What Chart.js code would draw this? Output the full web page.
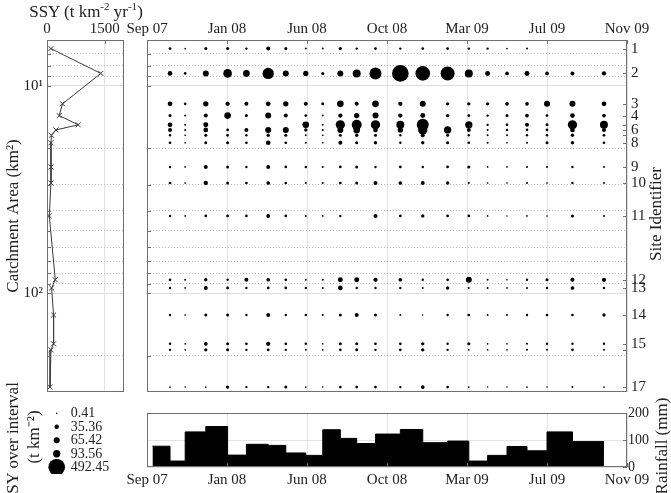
<!DOCTYPE html>
<html>
<head>
<meta charset="utf-8">
<script src="https://cdn.jsdelivr.net/npm/chart.js@4.4.1/dist/chart.umd.min.js"></script>
<style>
  body { margin: 0; background: #fff; }
  #fig { position: relative; width: 671px; height: 493px; overflow: hidden; font-family: "Liberation Serif", serif; color: #222; }
  #fig canvas { position: absolute; }
  .vlabel { position: absolute; white-space: nowrap; font-size: 17px; transform: translate(-50%, -50%) rotate(-90deg); }
  .hlabel { position: absolute; white-space: nowrap; font-size: 17px; transform: translate(-50%, -50%); }
</style>
</head>
<body>
<div id="fig">
  <canvas id="ssyChart" width="160" height="395" style="left:0;top:0"></canvas>
  <canvas id="syChart" width="561" height="400" style="left:110px;top:0"></canvas>
  <canvas id="rainChart" width="561" height="93" style="left:110px;top:400px"></canvas>
  <canvas id="keyChart" width="100" height="74" style="left:45px;top:400px"></canvas>
  <div class="hlabel" style="left:86px;top:11px">SSY (t km<sup style="font-size:11px">-2</sup> yr<sup style="font-size:11px">-1</sup>)</div>
  <div class="vlabel" style="left:656px;top:214px">Site Identifier</div>
  <div class="vlabel" style="left:662px;top:446px">Rainfall (mm)</div>
  <div class="vlabel" style="left:13px;top:438px">SY over interval</div>
  <div class="vlabel" style="left:32px;top:437px">(t km⁻²)</div>
</div>
<script>
// sites, ordered by catchment area (km2)
const siteLabels = ["1", "2", "3", "4", "", "6", "", "8", "9", "10", "11", "12", "13", "14", "15", "", "17"];
const catchmentArea = [6.6, 8.7, 12.2, 13.9, 15.4, 16.3, 17.3, 18.8, 24.6, 29.4, 42.4, 86.2, 94.4, 127.5, 175.6, 187.8, 284];
const ssy = [103, 1397, 403, 318, 809, 233, 116, 103, 103, 103, 60, 215, 119, 171, 171, 103, 78];

// sampling dates, days since 1 Sep 2007 (first entry = start of first interval)
const sampleDay = [9, 38, 63, 97, 133, 164, 200, 229, 262, 290, 319, 346, 377, 418, 455, 496, 531, 562, 594, 627, 660, 702, 754];
const rainfall = [77, 22, 130, 150, 44, 84, 80, 52, 43, 138, 106, 87, 122, 139, 90, 96, 22, 43, 76, 60, 130, 94];

const dateTickDays = [0, 132, 264, 396, 528, 660, 792];
const dateTickLabels = ["Sep 07", "Jan 08", "Jun 08", "Oct 08", "Mar 09", "Jul 09", "Nov 09"];
const ssyTicks = [0, 1500];
const rainTicks = [0, 100, 200];
const logGridTicks = [7, 8, 9, 10, 20, 30, 40, 50, 60, 70, 80, 90, 100, 200];
const legendValues = [0.41, 35.36, 65.42, 93.56, 492.45];

// SY over each interval (t km-2), one array per site
const sy01 = [13, 5, 16, 16, 10, 28, 16, 7, 7, 20, 10, 13, 10, 13, 13, 10, 10, 5, 7, null, null, null];
const sy02 = [39, 13, 64, 133, 79, 228, 64, 50, 16, 64, 113, 255, 492, 380, 350, 113, 44, 24, 44, 24, 28, 33];
const sy03 = [39, 13, 50, 33, 28, 39, 50, 28, 16, 79, 28, 79, 33, 64, 20, 20, 20, 24, 24, 64, 64, 39];
const sy04 = [16, 7, 28, 79, 16, 64, 28, 13, 7, 33, 50, 64, 33, 44, 20, 14, 10, 16, 24, 13, 39, 24];
const sy05 = [39, 7, 44, null, null, null, null, 79, 7, 154, 177, 154, 113, 255, null, 95, 10, 13, 28, 16, 154, 113];
const sy06 = [28, 7, 39, 13, 28, 64, 64, 20, 7, 64, 79, 39, 50, 154, 95, 28, 7, 10, 13, 13, 39, 28];
const sy07 = [10, 5, 16, 13, 10, 20, 16, 7, 5, 16, 20, 16, 10, 28, 16, 10, 7, 7, 10, 10, 20, 13];
const sy08 = [13, 5, 16, 16, 13, 39, 13, 7, 5, 28, 16, 20, 10, 20, 16, 13, 7, 5, 7, 16, 20, 13];
const sy09 = [10, 5, 28, 16, 10, 28, 13, 10, 7, 13, 16, 10, 13, 10, 13, 16, 5, 5, 7, 7, 10, 7];
const sy10 = [13, 5, 33, 16, 13, 24, 13, 7, 7, 13, 16, 28, 24, 28, 20, 7, 5, 5, 7, 5, 10, 7];
const sy11 = [10, 5, 13, 13, 13, 28, 13, 7, 5, 10, null, 28, 13, 20, 13, 13, 5, 3, 5, 3, 16, 7];
const sy12 = [13, 7, 20, 10, 28, 24, 13, 7, 7, 44, 44, 33, 24, 10, 13, 64, 7, 5, 10, 16, 28, 33];
const sy13 = [10, 5, 28, 13, 10, 13, 13, 10, 7, 39, 10, 10, 10, 7, 20, 7, 7, 5, 7, 10, 24, 10];
const sy14 = [10, 5, 16, 16, 10, 28, 10, 10, 7, 16, 28, 16, 7, 3, 10, 13, 7, 7, 10, 13, 13, 20];
const sy15 = [10, 5, 24, 16, 13, 33, 13, 10, 5, 16, 16, 13, 13, 20, 10, 16, 5, 5, 7, 10, 10, 10];
const sy16 = [10, 5, 20, 16, 10, 13, 10, 7, 5, 13, 16, 10, 13, 20, 10, 5, 5, 5, 7, 7, 13, 7];
const sy17 = [5, 3, 5, 20, 10, 10, 16, 5, 3, 13, 13, 13, 10, 24, 13, 5, 3, 3, 5, 3, 7, 5];
const syRows = [sy01, sy02, sy03, sy04, sy05, sy06, sy07, sy08, sy09, sy10, sy11, sy12, sy13, sy14, sy15, sy16, sy17];

Chart.defaults.font.family = "Liberation Serif";
Chart.defaults.font.size = 15;
Chart.defaults.color = "#222";
Chart.defaults.animation = false;
Chart.defaults.events = [];
Chart.defaults.responsive = false;
Chart.defaults.layout.autoPadding = false;
Chart.defaults.plugins.legend.display = false;
Chart.defaults.plugins.tooltip.enabled = false;

const radiusOf = v => Math.max(0.75, 0.375 * Math.sqrt(v));
const setTicks = list => s => { s.ticks = list.map(v => ({ value: v })); };
const isDecade = v => Math.abs(Math.log10(v) % 1) < 1e-9;
// fixed axis sizes so the plot boxes line up across canvases
const fitW = w => s => { s.width = w; s.paddingTop = 0; s.paddingBottom = 0; };
const fitH = h => s => { s.height = h; s.paddingLeft = 0; s.paddingRight = 0; };

// box round the plot area, with short inward tick marks (matlab look)
const frame = {
  id: "frame",
  afterDraw(chart) {
    const a = chart.chartArea;
    const ctx = chart.ctx;
    ctx.save();
    ctx.strokeStyle = "#707070";
    ctx.lineWidth = 1;
    ctx.strokeRect(Math.round(a.left) + 0.5, Math.round(a.top) + 0.5, Math.round(a.right - a.left) - 1, Math.round(a.bottom - a.top) - 1);
    ctx.beginPath();
    Object.values(chart.scales).forEach(s => {
      if (!s.options.display) return;
      s.ticks.forEach(t => {
        const p = Math.round(s.getPixelForValue(t.value)) + 0.5;
        if (s.position === "top") { ctx.moveTo(p, a.top); ctx.lineTo(p, a.top + 4); }
        else if (s.position === "bottom") { ctx.moveTo(p, a.bottom); ctx.lineTo(p, a.bottom - 4); }
        else if (s.position === "left") { ctx.moveTo(a.left, p); ctx.lineTo(a.left + 4, p); }
        else if (s.position === "right") { ctx.moveTo(a.right, p); ctx.lineTo(a.right - 4, p); }
      });
    });
    ctx.stroke();
    ctx.restore();
  },
};

const logGrid = { color: c => (c.tick && isDecade(c.tick.value) ? "#dedede" : "#bcbcbc"), drawTicks: false };
const logBorder = { display: false, dash: c => (c.tick && !isDecade(c.tick.value) ? [1, 2] : []) };
const dateGrid = { color: "#e3e3e3", drawTicks: false };

// catchment SSY profile
new Chart(document.getElementById("ssyChart"), {
  type: "scatter",
  data: {
    datasets: [{
      data: ssy.map((v, i) => ({ x: v, y: catchmentArea[i] })),
      showLine: true,
      borderColor: "#3a3a3a",
      borderWidth: 1,
      pointStyle: "crossRot",
      pointRadius: 3.5,
      pointBorderColor: "#3a3a3a",
      pointBorderWidth: 1,
    }],
  },
  options: {
    layout: { padding: { right: 36, bottom: 3 } },
    scales: {
      x: {
        type: "linear", position: "top", min: 0, max: 2000,
        afterBuildTicks: setTicks(ssyTicks),
        afterFit: fitH(40),
        ticks: { padding: 2, maxRotation: 0, autoSkip: false, callback: v => String(v) },
        grid: dateGrid,
        border: { display: false },
      },
      y: {
        type: "logarithmic", position: "left", reverse: true, min: 6, max: 300,
        afterBuildTicks: setTicks(logGridTicks),
        afterFit: fitW(47),
        ticks: { padding: 4, autoSkip: false, callback: v => (v === 10 ? "10¹" : v === 100 ? "10²" : "") },
        grid: logGrid,
        border: logBorder,
        title: { display: true, text: "Catchment Area (km²)", font: { size: 17 }, padding: { top: 3, bottom: 0 } },
      },
    },
  },
  plugins: [frame],
});

// SY bubbles per site and interval
new Chart(document.getElementById("syChart"), {
  type: "bubble",
  data: {
    datasets: syRows.map((row, s) => ({
      data: row
        .map((v, j) => (v == null ? null : { x: sampleDay[j + 1], y: catchmentArea[s], r: radiusOf(v) }))
        .filter(Boolean),
      backgroundColor: "#000",
      borderWidth: 0,
    })),
  },
  options: {
    layout: { padding: { bottom: 8 } },
    scales: {
      x: {
        type: "linear", position: "top", min: 0, max: 792,
        afterBuildTicks: setTicks(dateTickDays),
        afterFit: fitH(40),
        ticks: { padding: 2, maxRotation: 0, autoSkip: false, callback: (v, i) => dateTickLabels[i] },
        grid: dateGrid,
        border: { display: false },
      },
      y: {
        type: "logarithmic", position: "left", reverse: true, min: 6, max: 300,
        afterBuildTicks: setTicks(logGridTicks),
        afterFit: fitW(37),
        ticks: { display: false },
        grid: logGrid,
        border: logBorder,
      },
      site: {
        type: "logarithmic", axis: "y", position: "right", reverse: true, min: 6, max: 300,
        afterBuildTicks: setTicks(catchmentArea),
        afterFit: fitW(44),
        ticks: { padding: 4, autoSkip: false, callback: (v, i) => siteLabels[i] },
        grid: { display: false, drawTicks: false },
        border: { display: false },
      },
    },
  },
  plugins: [frame],
});

// rainfall per interval, drawn as steps between sampling dates
const rainSteps = rainfall
  .map((v, i) => ({ x: sampleDay[i], y: v }))
  .concat([{ x: sampleDay[rainfall.length], y: rainfall[rainfall.length - 1] }]);

new Chart(document.getElementById("rainChart"), {
  type: "line",
  data: {
    datasets: [{
      data: rainSteps,
      stepped: "before",
      fill: "origin",
      backgroundColor: "#000",
      borderColor: "#000",
      borderWidth: 1,
      pointRadius: 0,
    }],
  },
  options: {
    layout: { padding: { left: 37, top: 13 } },
    scales: {
      x: {
        type: "linear", position: "bottom", min: 0, max: 792,
        afterBuildTicks: setTicks(dateTickDays),
        afterFit: fitH(26),
        ticks: { padding: 4, maxRotation: 0, autoSkip: false, callback: (v, i) => dateTickLabels[i] },
        grid: dateGrid,
        border: { display: false },
      },
      y: {
        position: "right", min: 0, max: 200,
        afterBuildTicks: setTicks(rainTicks),
        afterFit: fitW(44),
        ticks: { padding: 1, font: { size: 14 }, callback: v => String(v) },
        grid: dateGrid,
        border: { display: false },
      },
    },
  },
  plugins: [frame],
});

// bubble size key
const keyLabels = {
  id: "keyLabels",
  afterDatasetsDraw(chart) {
    const ctx = chart.ctx;
    ctx.save();
    ctx.font = "14px 'Liberation Serif'";
    ctx.fillStyle = "#222";
    ctx.textBaseline = "middle";
    chart.getDatasetMeta(0).data.forEach((pt, i) => {
      ctx.fillText(legendValues[i].toFixed(2), pt.x + 14, pt.y + 0.5);
    });
    ctx.restore();
  },
};

new Chart(document.getElementById("keyChart"), {
  type: "bubble",
  data: {
    datasets: [{
      data: legendValues.map((v, i) => ({ x: 0.117, y: i, r: radiusOf(v) })),
      backgroundColor: "#000",
      borderWidth: 0,
    }],
  },
  options: {
    layout: { padding: { top: 6.5 } },
    scales: {
      x: { display: false, min: 0, max: 1 },
      y: { display: false, reverse: true, min: -0.5, max: 4.5 },
    },
  },
  plugins: [keyLabels],
});
</script>
</body>
</html>
